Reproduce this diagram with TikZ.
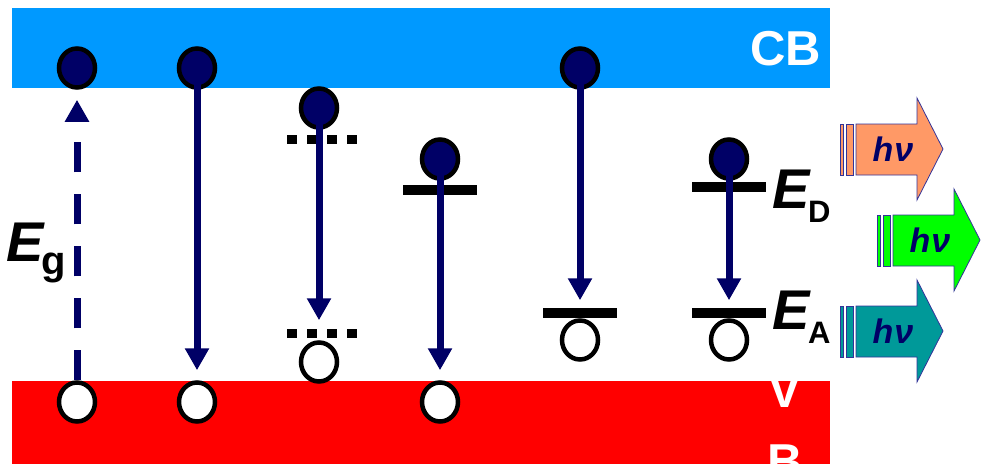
\documentclass[tikz,border=0pt]{standalone}
\usepackage{fontspec}
\setmainfont{Liberation Sans}
\usetikzlibrary{arrows.meta,shapes.geometric,shapes.arrows}
\definecolor{cbblue}{HTML}{0099FF}
\definecolor{vbred}{HTML}{FF0000}
\definecolor{navy}{HTML}{000066}
\definecolor{phorange}{HTML}{FF9966}
\definecolor{phgreen}{HTML}{00FF00}
\definecolor{phteal}{HTML}{009999}
\definecolor{phedge}{HTML}{333399}
\tikzset{
  electron/.style={ellipse, draw=black, line width=4.5pt, fill=navy,
    minimum width=36pt, minimum height=39pt, inner sep=0pt},
  hole/.style={ellipse, draw=black, line width=4.5pt, fill=white,
    minimum width=36pt, minimum height=39pt, inner sep=0pt},
  trans/.style={draw=navy, line width=7pt,
    -{Triangle[width=23pt,length=22pt]}},
  level/.style={draw=black, line width=10pt},
  dotlevel/.style={draw=black, line width=9pt, dash pattern=on 10pt off 10pt},
  bandtext/.style={text=white, font=\fontsize{49}{49}\selectfont\bfseries, inner sep=0pt},
  bigE/.style={font=\fontsize{56}{56}\selectfont\bfseries\itshape, inner sep=0pt},
  subE/.style={font=\fontsize{40}{40}\selectfont\bfseries, inner sep=0pt},
  photon/.style={draw=phedge, line width=0.8pt},
  hnu/.style={text=navy, font=\fontsize{34}{34}\selectfont\bfseries\itshape, inner sep=0pt}
}
\begin{document}
\begin{tikzpicture}[x=1pt, y=-1pt]
\useasboundingbox (0,0) rectangle (982,464);

% bands
\fill[cbblue] (12,8) rectangle (830,88);
\fill[vbred] (12,381) rectangle (830,464);
\node[bandtext, anchor=base east] (cb) at (821,65) {CB};
\node[bandtext, anchor=base] (vb) at (785,407) {V};
\node[bandtext, anchor=base] (vb2) at (785,478) {B};

% impurity levels
\draw[dotlevel] (287,139) -- (360,139);
\draw[dotlevel] (287,333) -- (360,333);
\draw[level] (403,190) -- (477,190);
\draw[level] (543,313) -- (617,313);
\draw[level] (692,187) -- (766,187);
\draw[level] (692,313) -- (766,313);

% carriers
\node[electron] (c1) at (77,68) {};
\node[electron] (c2) at (197,68) {};
\node[electron] (c3) at (319,108) {};
\node[electron] (c4) at (440,159) {};
\node[electron] (c5) at (580,68) {};
\node[electron] (c6) at (729,159) {};
\node[hole] (v1) at (77,402) {};
\node[hole] (v2) at (197,402) {};
\node[hole] (v3) at (319,362) {};
\node[hole] (v4) at (440,402) {};
\node[hole] (v5) at (580,340) {};
\node[hole] (v6) at (729,340) {};

% transitions
\draw[trans, dash pattern=on 30pt off 22pt, shorten >=10pt] (v1.north) -- (c1.south);
\draw[trans, shorten >=10pt] (c2.center) -- (v2.north);
\draw[trans, shorten >=20pt] (c3.center) -- (v3.north);
\draw[trans, shorten >=10pt] (c4.center) -- (v4.north);
\draw[trans, shorten >=18pt] (c5.center) -- (v5.north);
\draw[trans, shorten >=18pt] (c6.center) -- (v6.north);

% labels
\node[bigE, anchor=base west] (eg) at (6,261) {E};
\node[subE, anchor=base west] (egs) at (41,274) {g};
\node[bigE, anchor=base west] (ed) at (772,208) {E};
\node[subE, anchor=base west, font=\fontsize{31}{31}\selectfont\bfseries] (eds) at (808,222) {D};
\node[bigE, anchor=base west] (ea) at (772,329) {E};
\node[subE, anchor=base west, font=\fontsize{31}{31}\selectfont\bfseries] (eas) at (808,343) {A};

% emitted photons
\foreach \x/\y/\col/\nm in {840/149/phorange/p1, 877/240/phgreen/p2, 840/331/phteal/p3} {
  \filldraw[photon, fill=\col] (\x,\y-25) rectangle ++(3,51);
  \filldraw[photon, fill=\col] (\x+6,\y-25) rectangle ++(7,51);
  \filldraw[photon, fill=\col]
    (\x+16,\y-25) -- (\x+77,\y-25) -- (\x+77,\y-51) -- (\x+103,\y)
    -- (\x+77,\y+51) -- (\x+77,\y+26) -- (\x+16,\y+26) -- cycle;
  \node[hnu] (\nm) at (\x+53,\y) {h\kern1pt ν};
}
\end{tikzpicture}
\end{document}
